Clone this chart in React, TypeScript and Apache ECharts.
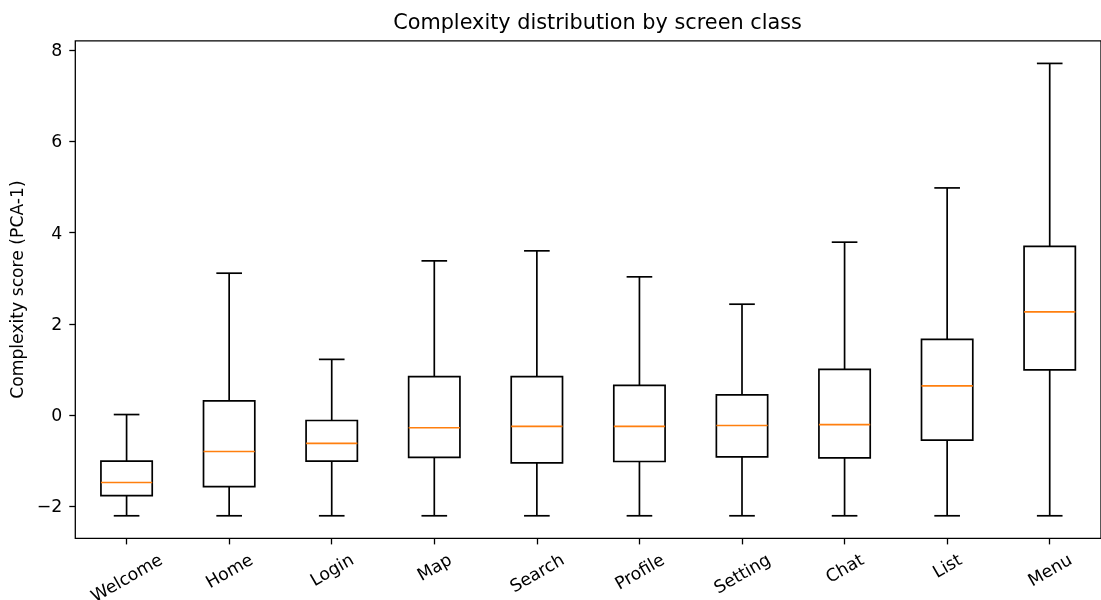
import React, { useEffect, useRef } from 'react';
import * as echarts from 'echarts';

const categories = ['Welcome', 'Home', 'Login', 'Map', 'Search', 'Profile', 'Setting', 'Chat', 'List', 'Menu'];
const whiskerLow = [-2.21, -2.21, -2.21, -2.21, -2.21, -2.21, -2.21, -2.21, -2.21, -2.21];
const q1 = [-1.77, -1.57, -1.01, -0.93, -1.05, -1.02, -0.92, -0.94, -0.55, 0.99];
const median = [-1.48, -0.8, -0.62, -0.28, -0.25, -0.25, -0.23, -0.21, 0.64, 2.26];
const q3 = [-1.01, 0.31, -0.12, 0.84, 0.84, 0.65, 0.44, 1.0, 1.66, 3.7];
const whiskerHigh = [0.01, 3.11, 1.22, 3.38, 3.6, 3.03, 2.43, 3.79, 4.98, 7.71];
const yTicks = [-2, 0, 2, 4, 6, 8];

const FONT = '"DejaVu Sans", sans-serif';
const TICK_FS = 17.3;

export default function App() {
  const ref = useRef<HTMLDivElement>(null);
  useEffect(() => {
    const chart = echarts.init(ref.current!, null, { renderer: 'svg' });
    const lo = Math.min(...whiskerLow);
    const hi = Math.max(...whiskerHigh);
    const pad = (hi - lo) * 0.05;
    const yMin = lo - pad;
    const yMax = hi + pad;
    const ctx = document.createElement('canvas').getContext('2d')!;
    ctx.font = `${TICK_FS}px "DejaVu Sans"`;
    const data = categories.map((c, i) => [i, whiskerLow[i], q1[i], median[i], q3[i], whiskerHigh[i]]);
    const fmt = (v: number) => (v < 0 ? '\u2212' + Math.abs(v) : String(v));

    chart.setOption({
      animation: false,
      title: {
        text: 'Complexity distribution by screen class',
        left: 592.5,
        top: 6,
        textAlign: 'center',
        textStyle: { fontFamily: FONT, fontSize: 20.8, fontWeight: 'normal', color: '#000' },
      },
      grid: {
        left: 75.3,
        right: -8.7,
        top: 40.8,
        bottom: 61.6,
        show: true,
        borderColor: '#000',
        borderWidth: 1.3,
        backgroundColor: 'transparent',
      },
      xAxis: {
        type: 'category',
        data: categories,
        boundaryGap: true,
        axisLine: { show: false, onZero: false },
        axisTick: { show: true, alignWithLabel: true, length: 6, lineStyle: { color: '#000', width: 1.3 } },
        axisLabel: { show: false },
        splitLine: { show: false },
      },
      yAxis: {
        type: 'value',
        min: yMin,
        max: yMax,
        axisLine: { show: false, onZero: false },
        axisTick: { show: true, length: 6, customValues: yTicks, lineStyle: { color: '#000', width: 1.3 } },
        axisLabel: {
          customValues: yTicks,
          formatter: fmt,
          margin: 13,
          fontFamily: FONT,
          fontSize: TICK_FS,
          color: '#000',
        },
        splitLine: { show: false },
        name: 'Complexity score (PCA-1)',
        nameLocation: 'middle',
        nameGap: 43,
        nameTextStyle: { fontFamily: FONT, fontSize: 17.2, color: '#000' },
      },
      series: [
        {
          type: 'custom',
          clip: false,
          data,
          encode: { x: 0, y: [1, 2, 3, 4, 5] },
          renderItem: (params: any, api: any) => {
            const i = api.value(0);
            const cx = api.coord([i, 0])[0];
            const yOf = (v: number) => api.coord([i, v])[1];
            const band = api.size([1, 0])[0];
            const bw = band * 0.5;
            const cw = band * 0.25;
            const yLow = yOf(api.value(1));
            const yQ1 = yOf(api.value(2));
            const yMed = yOf(api.value(3));
            const yQ3 = yOf(api.value(4));
            const yHigh = yOf(api.value(5));
            const axisY = yOf(yMin);
            const name = categories[i];
            const w = ctx.measureText(name).width;
            const ls = { stroke: '#000', lineWidth: 1.7, fill: 'none' };
            return {
              type: 'group',
              children: [
                { type: 'line', shape: { x1: cx, y1: yQ1, x2: cx, y2: yLow }, style: ls },
                { type: 'line', shape: { x1: cx, y1: yQ3, x2: cx, y2: yHigh }, style: ls },
                { type: 'line', shape: { x1: cx - cw / 2, y1: yLow, x2: cx + cw / 2, y2: yLow }, style: ls },
                { type: 'line', shape: { x1: cx - cw / 2, y1: yHigh, x2: cx + cw / 2, y2: yHigh }, style: ls },
                { type: 'rect', shape: { x: cx - bw / 2, y: yQ3, width: bw, height: yQ1 - yQ3 }, style: ls },
                {
                  type: 'line',
                  shape: { x1: cx - bw / 2, y1: yMed, x2: cx + bw / 2, y2: yMed },
                  style: { stroke: '#ff7f0e', lineWidth: 1.7 },
                },
                {
                  type: 'text',
                  x: cx,
                  y: axisY + 19.5 + w / 4,
                  rotation: Math.PI / 6,
                  style: {
                    text: name,
                    fontFamily: FONT,
                    fontSize: TICK_FS,
                    fill: '#000',
                    align: 'center',
                    verticalAlign: 'middle',
                  },
                },
              ],
            };
          },
        },
      ],
    });
    return () => chart.dispose();
  }, []);
  return <div ref={ref} style={{ position: 'fixed', left: 0, top: 0, width: 1101, height: 600 }} />;
}
